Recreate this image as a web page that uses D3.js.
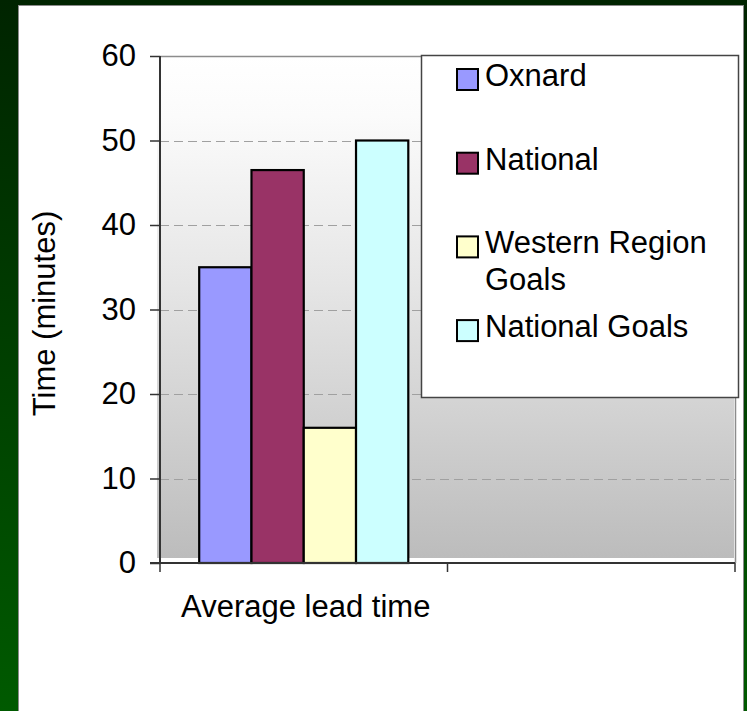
<!DOCTYPE html>
<html>
<head>
<meta charset="utf-8">
<script src="https://cdn.jsdelivr.net/npm/d3@7"></script>
<style>
  html, body { margin: 0; padding: 0; background: #003000; }
  svg { display: block; }
  text { font-family: "Liberation Sans", Arial, sans-serif; fill: #000; }
</style>
</head>
<body>
<svg id="chart" width="747" height="711"></svg>
<script>
// Chart data
const categories = ["Average lead time", ""];
const seriesNames = ["Oxnard", "National", "Western Region Goals", "National Goals"];
const seriesColors = ["#9999ff", "#993366", "#ffffcc", "#ccffff"];
const leadTimeValues = [35, 46.5, 16, 50];   // minutes, first category only
const yTicks = [0, 10, 20, 30, 40, 50, 60];
const yTitle = "Time (minutes)";
const legendLines = [["Oxnard"], ["National"], ["Western Region", "Goals"], ["National Goals"]];

const W = 747, H = 711;
const FONT = 31;
const svg = d3.select("#chart");
const defs = svg.append("defs");

// Slide background: dark green gradient
const bg = defs.append("linearGradient").attr("id", "bgGrad")
  .attr("x1", 0).attr("y1", 0).attr("x2", 0).attr("y2", 1);
bg.append("stop").attr("offset", 0).attr("stop-color", "#002400");
bg.append("stop").attr("offset", 1).attr("stop-color", "#005a00");
svg.append("rect").attr("width", W).attr("height", H).attr("fill", "url(#bgGrad)");

// White chart panel
svg.append("rect")
  .attr("x", 18.5).attr("y", 5.5).attr("width", 725).attr("height", H)
  .attr("fill", "#fff").attr("stroke", "#8a8a8a").attr("stroke-width", 1);

// Plot-area gradient
const pg = defs.append("linearGradient").attr("id", "plotGrad")
  .attr("x1", 0).attr("y1", 0).attr("x2", 0).attr("y2", 1);
pg.append("stop").attr("offset", 0).attr("stop-color", "#ffffff");
pg.append("stop").attr("offset", 0.12).attr("stop-color", "#fbfbfb");
pg.append("stop").attr("offset", 0.45).attr("stop-color", "#e6e6e6");
pg.append("stop").attr("offset", 1).attr("stop-color", "#bcbcbc");

// Scales
const plot = { left: 160, right: 735, top: 56, bottom: 563 };
const x = d3.scaleBand().domain(categories).range([plot.left, plot.right]).padding(0);
const xs = d3.scaleBand().domain(seriesNames).range([0, x.bandwidth()])
  .paddingInner(0).paddingOuter(0.75);
const y = d3.scaleLinear().domain([0, 60]).range([plot.bottom, plot.top]);

// Plot area background and border
svg.append("rect")
  .attr("x", plot.left - 3).attr("y", plot.top)
  .attr("width", plot.right - plot.left + 2).attr("height", plot.bottom - plot.top - 5)
  .attr("fill", "url(#plotGrad)");
svg.append("path")
  .attr("d", `M${plot.left},${plot.top + 0.5}H${plot.right + 0.5}V${plot.bottom}`)
  .attr("fill", "none").attr("stroke", "#8c8c8c").attr("stroke-width", 1.5);

// Dashed gridlines
svg.append("g").selectAll("line")
  .data(yTicks.filter(t => t > 0 && t < 60))
  .join("line")
  .attr("x1", plot.left).attr("x2", plot.right)
  .attr("y1", d => Math.round(y(d)) + 0.5).attr("y2", d => Math.round(y(d)) + 0.5)
  .attr("stroke", "#a0a0a0").attr("stroke-width", 1)
  .attr("stroke-dasharray", "9,5");

// Bars
const barData = seriesNames.map((s, i) => ({ cat: categories[0], series: s, value: leadTimeValues[i], color: seriesColors[i] }));
svg.append("g").selectAll("rect")
  .data(barData)
  .join("rect")
  .attr("x", d => x(d.cat) + xs(d.series))
  .attr("y", d => y(d.value))
  .attr("width", xs.bandwidth())
  .attr("height", d => y(0) - y(d.value))
  .attr("fill", d => d.color)
  .attr("stroke", "#000").attr("stroke-width", 2.2);

// Y axis
const yAxis = d3.axisLeft(y).tickValues(yTicks).tickSize(10).tickPadding(14);
const gy = svg.append("g").attr("transform", `translate(${plot.left},0)`).call(yAxis);
gy.select(".domain").attr("stroke", "#333").attr("stroke-width", 2)
  .attr("d", `M0,${plot.top}V${plot.bottom}`);
gy.selectAll(".tick line").attr("stroke", "#333").attr("stroke-width", 1.5);
gy.selectAll(".tick text")
  .attr("font-family", "Liberation Sans, Arial, sans-serif")
  .attr("font-size", FONT).attr("fill", "#000").attr("dy", "0.32em");

// X axis: tick marks at category boundaries
const gx = svg.append("g").attr("transform", `translate(0,${plot.bottom})`);
gx.append("line").attr("x1", plot.left - 10).attr("x2", plot.right)
  .attr("y1", 0).attr("y2", 0).attr("stroke", "#333").attr("stroke-width", 2);
const boundaries = categories.map(c => x(c)).concat([x(categories[categories.length - 1]) + x.bandwidth()]);
gx.selectAll("line.tk").data(boundaries).join("line").attr("class", "tk")
  .attr("x1", d => d).attr("x2", d => d).attr("y1", 0).attr("y2", 9)
  .attr("stroke", "#333").attr("stroke-width", 1.5);
gx.selectAll("text").data(categories).join("text")
  .attr("x", d => x(d) + x.bandwidth() / 2 + 2)
  .attr("y", 54)
  .attr("text-anchor", "middle")
  .attr("font-size", FONT)
  .text(d => d);

// Y axis title
svg.append("text")
  .attr("transform", `translate(55,${(plot.top + plot.bottom) / 2 + 4}) rotate(-90)`)
  .attr("text-anchor", "middle")
  .attr("font-size", FONT)
  .text(yTitle);

// Legend
const legend = { x: 421, y: 55, w: 317, h: 342 };
svg.append("rect")
  .attr("x", legend.x + 0.5).attr("y", legend.y + 0.5)
  .attr("width", legend.w).attr("height", legend.h)
  .attr("fill", "#fff").attr("stroke", "#444").attr("stroke-width", 1.5);
const rowStep = 83.7, lineStep = 37;
const items = svg.append("g").selectAll("g")
  .data(seriesNames.map((s, i) => ({ name: s, color: seriesColors[i], lines: legendLines[i], i })))
  .join("g")
  .attr("transform", d => `translate(${legend.x + 36},${legend.y + 31 + d.i * rowStep})`);
items.append("rect")
  .attr("x", 0).attr("y", -17).attr("width", 21).attr("height", 21)
  .attr("fill", d => d.color).attr("stroke", "#000").attr("stroke-width", 2);
items.append("text")
  .attr("font-size", FONT)
  .selectAll("tspan")
  .data(d => d.lines)
  .join("tspan")
  .attr("x", 28)
  .attr("y", (d, j) => j * lineStep)
  .text(d => d);
</script>
</body>
</html>
